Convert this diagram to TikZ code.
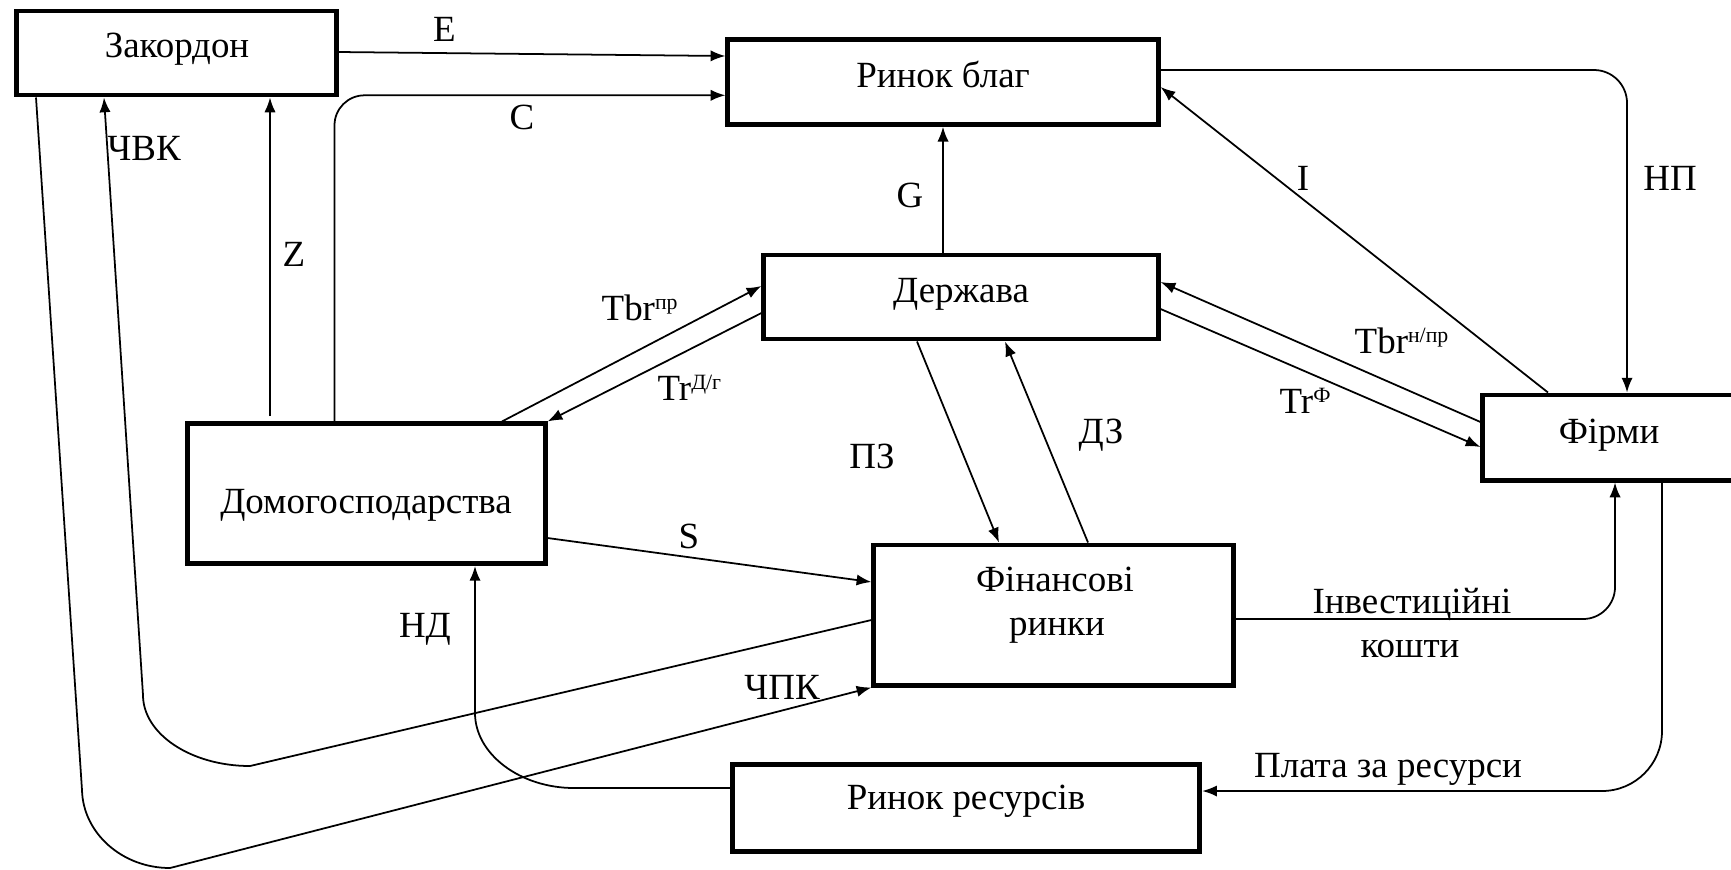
\documentclass[tikz,border=0pt]{standalone}
\usepackage{fontspec}
\setmainfont{Liberation Serif}
\newfontfamily\lserif{Liberation Serif}
\newcommand{\mysup}[1]{\raisebox{3pt}{\fontsize{6.2}{7}\selectfont #1}}
\usetikzlibrary{arrows.meta}
\begin{document}
\begin{tikzpicture}[x=0.01cm, y=-0.01cm,
  box/.style={draw, line width=1.4pt, inner sep=0pt},
  conn/.style={line width=0.5pt},
  arr/.style={conn, -{Latex[length=4.2pt,width=3.2pt]}},
  txt/.style={font=\lserif\fontsize{10.5}{12}\selectfont, inner sep=0pt, anchor=base},
  sup/.style={txt, anchor=base west}]
\useasboundingbox (0,0) rectangle (1731,869);
% boxes
\node[box, minimum width=3.19cm, minimum height=0.84cm] (zak) at (176.5,53) {};
\node[box, minimum width=4.30cm, minimum height=0.845cm] (blag) at (943,82) {};
\node[box, minimum width=3.94cm, minimum height=0.84cm] (derzh) at (961,297) {};
\node[box, minimum width=3.57cm, minimum height=1.395cm] (dom) at (366.5,493.7) {};
\node[box, minimum width=3.595cm, minimum height=1.40cm] (fin) at (1053.7,615) {};
\node[box, minimum width=2.55cm, minimum height=0.85cm] (firm) at (1610.5,437.5) {};
\node[box, minimum width=4.666cm, minimum height=0.865cm] (res) at (966.3,808) {};
% box texts
\node[txt] (zakT) at (177,57) {Закордон};
\node[txt] (blagT) at (943,87) {Ринок благ};
\node[txt] (derzhT) at (961,302) {Держава};
\node[txt] (domT) at (366,513) {Домогосподарства};
\node[txt] (finT1) at (1055,591) {Фінансові};
\node[txt] (finT2) at (1057,635) {ринки};
\node[txt] (firmT) at (1609,443) {Фірми};
\node[txt] (resT) at (966,809) {Ринок ресурсів};
% labels
\node[txt] (lE) at (444.5,41) {E};
\node[txt] (lC) at (522,129) {C};
\node[txt] (lCVK) at (144,160) {ЧВК};
\node[txt] (lZ) at (294,266) {Z};
\node[txt] (lG) at (910,207) {G};
\node[txt] (lI) at (1303,190) {I};
\node[txt] (lNP) at (1670,190) {НП};
\node[txt] (lDZ) at (1101,443) {ДЗ};
\node[txt] (lPZ) at (872,468) {ПЗ};
\node[txt] (lS) at (689,548) {S};
\node[txt] (lND) at (425,637) {НД};
\node[txt] (lCPK) at (782,699) {ЧПК};
\node[txt] (lInv1) at (1412,613) {Інвестиційні};
\node[txt] (lInv2) at (1410,657) {кошти};
\node[txt] (lPlata) at (1388,777) {Плата за ресурси};
\node[sup] (lTbr1) at (601,320) {Tbr\mysup{пр}};
\node[sup] (lTr1) at (657,400) {Tr\mysup{Д/г}};
\node[sup] (lTbr2) at (1354,353) {Tbr\mysup{н/пр}};
\node[sup] (lTr2) at (1279,413) {Tr\mysup{Ф}};
% connectors
\coordinate (zs) at (270,416);
\draw[arr] (zak.east |- 0,52) -- (blag.west |- 0,56);
\draw[arr, rounded corners=0.3cm] (dom.north -| 334.5,0) |- (blag.west |- 0,95.3);
\draw[arr] (zs) -- (zs |- zak.south);
\draw[arr] (fin.west |- 0,620) -- (250,766) .. controls (191,766) and (143,734) .. (143,695) -- (zak.south -| 104,0);
\draw[arr] (zak.south -| 36,0) -- (82,790) .. controls (83,833) and (122,868) .. (170,868) -- (fin.south west);
\draw[arr] (res.west |- 0,788) -- (574,788) .. controls (520,788) and (475,754) .. (475,713) -- (dom.south -| 475,0);
\draw[arr] (dom.east |- 0,538) -- (fin.west |- 0,582);
\draw[arr] (dom.north -| 502,0) -- (derzh.west |- 0,286);
\draw[arr] (derzh.west |- 0,313) -- (dom.north east);
\draw[arr] (derzh.north -| 943,0) -- (blag.south -| 943,0);
\draw[arr, rounded corners=0.33cm] (blag.east |- 0,70) -| (firm.north -| 1627,0);
\draw[arr] (firm.north -| 1548,0) -- (blag.east |- 0,87);
\draw[arr] (firm.west |- 0,422) -- (derzh.east |- 0,282);
\draw[arr] (derzh.east |- 0,309) -- (firm.west |- 0,447);
\draw[arr] (derzh.south -| 917,0) -- (fin.north -| 999,0);
\draw[arr] (fin.north -| 1088,0) -- (derzh.south -| 1005,0);
\draw[arr, rounded corners=0.32cm] (fin.east |- 0,619) -| (firm.south -| 1615,0);
\draw[arr, rounded corners=0.6cm] (firm.south -| 1662,0) |- (res.east |- 0,791);
\end{tikzpicture}
\end{document}
